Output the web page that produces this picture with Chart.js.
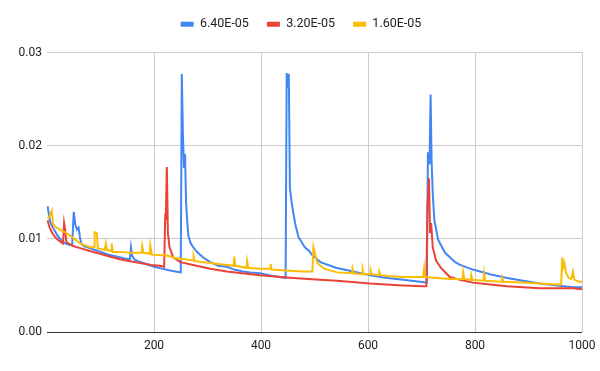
<!DOCTYPE html>
<html>
<head>
<meta charset="utf-8">
<script src="https://cdn.jsdelivr.net/npm/chart.js@4"></script>
<style>
  html, body { margin: 0; padding: 0; background: #fff; }
  #wrap { width: 600px; height: 371px; position: relative; }
</style>
</head>
<body>
<div id="wrap"><canvas id="c"></canvas></div>
<script>
// series labels
const seriesNames = ["6.40E-05", "3.20E-05", "1.60E-05"];

// 6.40E-05 (blue)
const blueX = [1,3,6,11,19,30,40,47,50,53,56,59,62,65,70,80,90,100,115,130,145,155,157,159,163,170,185,200,215,230,240,250,
  252,254,256,258,260,262,264,268,272,280,292,305,320,336,350,366,380,398,415,435,446,
  448,450,452,454,458,464,470,482,490,495,511,540,572,604,636,666,697,710,
  712,715,717,719,721,724,731,744,763,772,796,828,860,890,921,953,983,1000];
const blueY = [0.0135,0.0128,0.0118,0.0112,0.0104,0.0096,0.0094,0.0093,0.0129,0.0115,0.0110,0.0112,0.0100,0.0094,0.0092,0.0090,0.0088,0.0086,0.0083,0.0081,0.0079,0.0078,0.0091,0.0082,0.0078,0.0076,0.0073,0.0070,0.0068,0.0066,0.0065,0.0064,
  0.0277,0.0214,0.0176,0.0191,0.0138,0.0120,0.0104,0.0096,0.0092,0.0086,0.0080,0.0075,0.0071,0.0070,0.0067,0.0065,0.0064,0.0063,0.0061,0.0059,0.0058,
  0.0278,0.0262,0.0277,0.0155,0.0136,0.0116,0.0102,0.0091,0.0087,0.0083,0.0075,0.0069,0.0065,0.0061,0.0058,0.0056,0.0054,0.0053,
  0.0193,0.0180,0.0255,0.0181,0.0149,0.0120,0.0099,0.0085,0.0075,0.0072,0.0067,0.0062,0.0058,0.0055,0.0052,0.0050,0.0048,0.0048];

// 3.20E-05 (red)
const redX = [1,5,10,15,20,25,30,32,34,36,40,50,62,80,99,117,136,155,174,195,211,219,
  221,222,224,226,229,236,249,273,305,336,398,460,510,542,604,665,703,709,
  711,714,716,718,721,727,736,753,772,796,828,860,890,921,983,1000];
const redY = [0.0120,0.0112,0.0106,0.0102,0.0099,0.0097,0.0095,0.0117,0.0110,0.0097,0.0095,0.0092,0.0090,0.0087,0.0084,0.0081,0.0078,0.0076,0.0074,0.0072,0.0071,0.0070,
  0.0127,0.0120,0.0177,0.0106,0.0091,0.0080,0.0075,0.0072,0.0068,0.0065,0.0061,0.0058,0.0056,0.0055,0.0052,0.0050,0.0049,0.0049,
  0.0134,0.0165,0.0106,0.0117,0.0091,0.0077,0.0069,0.0059,0.0056,0.0053,0.0051,0.0049,0.0048,0.0047,0.0047,0.0046];

// 1.60E-05 (yellow)
const yellowX = [1,5,9,11,15,24,37,49,62,80,88,89,93,95,108,110,112,120,121,123,136,155,177,178,180,192,193,196,224,243,273,274,276,305,
  349,350,352,373,374,376,398,417,418,420,448,478,496,498,505,518,542,570,571,573,589,590,592,604,605,607,620,621,623,636,665,703,705,707,
  729,753,777,778,780,792,793,795,816,817,819,850,851,853,890,921,955,961,963,965,967,970,975,980,983,986,995,1000];
const yellowY = [0.0122,0.0124,0.0130,0.0116,0.0113,0.0110,0.0106,0.0101,0.0095,0.0091,0.0091,0.0107,0.0106,0.0090,0.0088,0.0095,0.0088,0.0087,0.0095,0.0086,0.0086,0.0085,0.0085,0.0092,0.0085,0.0084,0.0093,0.0083,0.0082,0.0079,0.0077,0.0081,0.0076,0.0074,
  0.0071,0.0081,0.0071,0.0069,0.0076,0.0069,0.0068,0.0068,0.0073,0.0067,0.0066,0.0065,0.0065,0.0091,0.0074,0.0068,0.0064,0.0063,0.0068,0.0063,0.0062,0.0067,0.0062,0.0062,0.0066,0.0062,0.0061,0.0065,0.0061,0.0060,0.0059,0.0059,0.0069,0.0059,
  0.0058,0.0057,0.0057,0.0064,0.0057,0.0056,0.0061,0.0056,0.0055,0.0063,0.0055,0.0054,0.0058,0.0054,0.0053,0.0052,0.0051,0.0051,0.0080,0.0070,0.0074,0.0064,0.0058,0.0057,0.0065,0.0056,0.0054,0.0054];

// axis ticks
const xTicks = [200, 400, 600, 800, 1000];
const yTicks = [0, 0.01, 0.02, 0.03];

const colors = ["#4285F4", "#EA4335", "#FBBC04"];

function pts(xs, ys){
  return xs.map((x, i) => ({x: x, y: ys[i]}));
}

const sets = [pts(blueX, blueY), pts(redX, redY), pts(yellowX, yellowY)];

Chart.defaults.font.family = "Roboto, 'Liberation Sans', Arial, sans-serif";
Chart.defaults.font.size = 12;
Chart.defaults.color = "#222";

// push the plot down below the legend a bit, and nudge the legend right
const legendGap = {
  id: "legendGap",
  beforeInit(chart){
    const lg = chart.legend;
    const fit = lg.fit;
    lg.fit = function(){
      fit.call(this);
      this.height += 12;
    };
    const draw = lg.draw;
    lg.draw = function(){
      const c = this.ctx;
      c.save();
      c.translate(10, 0);
      draw.call(this);
      c.restore();
    };
  }
};

new Chart(document.getElementById("c").getContext("2d"), {
  type: "line",
  plugins: [legendGap],
  data: {
    datasets: sets.map((d, i) => ({
      label: seriesNames[i],
      data: d,
      borderColor: colors[i],
      backgroundColor: colors[i],
      borderWidth: 2,
      pointRadius: 0,
      tension: 0,
      order: 2 - i
    }))
  },
  options: {
    responsive: true,
    maintainAspectRatio: false,
    animation: false,
    layout: { padding: { top: 0, right: 18, left: 0, bottom: 0 } },
    plugins: {
      legend: {
        position: "top",
        labels: {
          boxWidth: 13,
          boxHeight: 5,
          padding: 18,
          color: "#222",
          font: { size: 12.5 },
          generateLabels: chart => chart.data.datasets.map((ds, i) => ({
            text: ds.label, fillStyle: ds.borderColor, strokeStyle: ds.borderColor,
            lineWidth: 0, datasetIndex: i, hidden: false, fontColor: "#222"
          }))
        }
      },
      tooltip: { enabled: false }
    },
    scales: {
      x: {
        type: "linear",
        min: 0, max: 1000,
        afterBuildTicks: s => { s.ticks = xTicks.map(v => ({value: v})); },
        afterFit: s => { s.height = 39; s.paddingLeft = 0; s.paddingRight = 0; },
        ticks: { padding: 7, color: "#222", maxRotation: 0, callback: v => String(v) },
        grid: { color: "#cccccc", drawTicks: false },
        border: { display: false }
      },
      y: {
        min: 0, max: 0.03,
        afterBuildTicks: s => { s.ticks = yTicks.map(v => ({value: v})); },
        afterFit: s => { s.width = 47; },
        ticks: { padding: 5, color: "#222", callback: v => Number(v).toFixed(2) },
        grid: {
          drawTicks: false,
          color: c => c.tick && c.tick.value === 0 ? "#333333" : "#cccccc"
        },
        border: { display: false }
      }
    }
  }
});
</script>
</body>
</html>
